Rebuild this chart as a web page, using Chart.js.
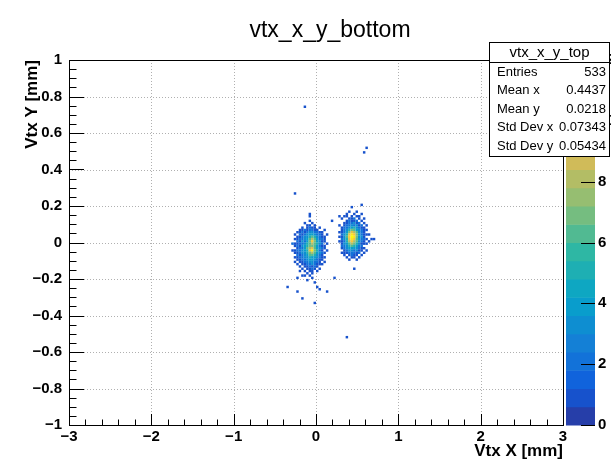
<!DOCTYPE html>
<html><head><meta charset="utf-8">
<script src="https://cdn.jsdelivr.net/npm/chart.js@4/dist/chart.umd.min.js"></script>
<style>html,body{margin:0;padding:0;background:#fff;}canvas{display:block;}</style>
</head><body>
<canvas id="c" width="611" height="465"></canvas>
<script>
// ---------- texts ----------
const chartTitle = 'vtx_x_y_bottom';
const xAxisTitle = 'Vtx X [mm]';
const yAxisTitle = 'Vtx Y [mm]';
const statsTitle = 'vtx_x_y_top';
const statsLabels = ['Entries', 'Mean x', 'Mean y', 'Std Dev x', 'Std Dev y'];
const statsValues = ['533', '0.4437', '0.0218', '0.07343', '0.05434'];

// ---------- ticks ----------
const xTickValues = [-3, -2, -1, 0, 1, 2, 3];
const yTickValues = [-1, -0.8, -0.6, -0.4, -0.2, 0, 0.2, 0.4, 0.6, 0.8, 1];
const zTickValues = [0, 2, 4, 6, 8, 10, 12];

// ---------- histogram binning ----------
const xRange = [-3, 3];
const yRange = [-1, 1];
const xBinWidth = 0.03;
const yBinWidth = 0.0125;

// right cluster: first x bin index, top y bin index, counts (rows top -> bottom)
const rightFirstXBin = 109;
const rightTopYBin = 93;
const rightCounts = [
  [0,0,0,0,1,0,0,1,0,0,0,0,0,0],
  [0,0,0,1,0,0,1,0,0,1,0,0,0,0],
  [0,0,1,0,0,1,0,1,1,0,0,0,0,0],
  [0,1,0,0,1,1,2,0,1,0,1,0,0,0],
  [0,0,0,1,2,1,1,2,0,1,0,0,0,0],
  [0,0,1,1,2,2,3,1,2,0,1,0,0,0],
  [1,0,1,2,2,3,2,3,1,2,0,1,0,0],
  [0,1,2,2,3,4,5,3,2,1,1,0,0,0],
  [0,1,2,3,5,7,6,4,3,2,1,1,0,0],
  [1,1,2,4,7,9,8,6,3,2,1,0,0,0],
  [0,2,3,5,9,11,10,7,4,2,1,1,1,0],
  [1,1,3,6,10,12,11,7,3,3,1,0,0,0],
  [0,2,3,5,9,11,10,6,4,2,2,1,0,1],
  [1,1,2,5,8,10,8,6,3,2,1,0,1,0],
  [0,1,3,4,6,8,7,5,3,1,1,1,0,0],
  [0,2,2,3,5,6,5,4,2,2,0,0,0,0],
  [0,1,2,3,4,4,4,3,2,1,1,0,0,0],
  [0,0,1,2,3,3,2,3,1,1,0,1,0,0],
  [0,1,1,1,2,2,2,1,2,0,1,0,0,0],
  [0,0,1,0,1,2,1,1,0,1,0,0,0,0],
  [0,0,0,1,0,1,1,0,1,0,0,0,0,0],
  [0,0,0,0,1,0,0,1,0,0,0,0,0,0]
];

// left cluster
const leftFirstXBin = 90;
const leftTopYBin = 91;
const leftCounts = [
  [0,0,0,0,0,0,0,1,0,0,0,0,0,0,0,0],
  [0,0,0,0,0,0,0,0,0,0,0,0,0,0,0,0],
  [0,0,0,0,0,0,0,1,0,0,0,0,0,0,0,0],
  [0,0,0,0,0,1,0,0,1,0,0,0,0,0,0,0],
  [0,0,0,0,0,0,1,1,0,1,0,0,0,0,0,0],
  [0,0,0,0,1,0,1,2,1,1,0,1,0,0,0,0],
  [0,0,0,1,1,2,1,2,2,1,1,0,0,1,0,0],
  [0,0,1,1,2,1,2,3,3,2,2,1,1,0,0,0],
  [0,1,0,2,1,2,3,4,4,3,2,2,1,0,1,0],
  [0,0,1,1,2,3,3,5,6,5,3,2,1,1,0,0],
  [0,1,1,2,2,3,4,6,8,6,4,2,2,1,0,0],
  [0,0,2,1,3,2,4,7,10,7,4,3,1,1,0,0],
  [1,1,1,2,2,3,5,6,8,6,5,3,2,0,1,0],
  [0,1,2,1,3,4,5,7,7,6,4,2,1,1,0,0],
  [0,0,1,2,2,4,6,8,9,6,4,3,2,1,0,0],
  [1,1,2,2,3,4,5,9,11,7,5,2,1,0,1,0],
  [0,1,1,2,3,3,5,7,8,6,4,3,2,1,0,0],
  [0,0,2,1,2,3,4,6,6,5,3,2,1,0,0,0],
  [0,1,1,2,2,3,3,5,4,4,3,2,1,1,0,0],
  [0,0,1,1,2,2,3,4,4,3,2,1,1,0,0,0],
  [0,1,0,1,1,2,2,3,3,2,2,1,0,1,0,0],
  [0,0,1,0,1,1,2,2,3,2,1,1,1,0,0,0],
  [0,0,0,1,0,1,1,2,1,2,1,0,0,0,0,0],
  [0,0,0,0,1,0,1,1,2,1,0,1,0,0,0,0],
  [0,0,0,1,0,1,0,1,1,0,1,0,0,0,0,0],
  [0,0,0,0,0,0,1,0,1,0,0,0,0,0,0,0],
  [0,0,0,0,1,0,0,1,0,0,0,0,0,0,0,0],
  [0,0,0,0,0,0,0,0,1,0,0,0,0,0,0,0],
  [0,0,0,0,0,0,1,0,0,0,0,0,0,0,0,0],
  [0,0,0,0,0,0,0,0,0,1,0,0,0,0,0,0]
];

// isolated single entries
const isolatedX = [-0.13, 0.62, 0.59, -0.255, 0.44, 0.56, -0.07, 0.19, 0.29, 0.38, -0.34, -0.23, -0.16, -0.01, 0.01, 0.05, 0.13, 0.23, 0.38, -0.23, -0.13, -0.30, 0.70, 0.46];
const isolatedY = [0.74, 0.515, 0.495, 0.263, 0.19, 0.205, 0.16, 0.115, 0.14, 0.14, -0.24, -0.27, -0.30, -0.33, -0.25, -0.26, -0.27, -0.20, -0.515, -0.19, -0.18, -0.005, 0.02, -0.14];

// ---------- palette (ROOT kBird) ----------
const birdStops = [0, 0.125, 0.25, 0.375, 0.5, 0.625, 0.75, 0.875, 1];
const birdR = [0.2082, 0.0592, 0.0780, 0.0232, 0.1802, 0.5301, 0.8186, 0.9956, 0.9764];
const birdG = [0.1664, 0.3599, 0.5041, 0.6419, 0.7178, 0.7492, 0.7328, 0.7862, 0.9832];
const birdB = [0.5293, 0.8684, 0.8385, 0.7914, 0.6425, 0.4662, 0.3499, 0.1968, 0.0539];
const nContours = 20;

function birdColor(f) {
  f = Math.max(0, Math.min(1, f));
  let i = 0;
  while (i < birdStops.length - 2 && f > birdStops[i + 1]) i++;
  const t = (f - birdStops[i]) / (birdStops[i + 1] - birdStops[i]);
  const c = a => Math.round(255 * (a[i] + t * (a[i + 1] - a[i])));
  return `rgb(${c(birdR)},${c(birdG)},${c(birdB)})`;
}

// ---------- build cells ----------
const binMap = new Map();
function addBin(ix, iy, v) { const k = ix + ',' + iy; binMap.set(k, (binMap.get(k) || 0) + v); }
function addGrid(counts, firstX, topY) {
  counts.forEach((row, j) => row.forEach((v, i) => { if (v > 0) addBin(firstX + i, topY - j, v); }));
}
addGrid(rightCounts, rightFirstXBin, rightTopYBin);
addGrid(leftCounts, leftFirstXBin, leftTopYBin);
isolatedX.forEach((x, n) => addBin(Math.floor((x - xRange[0]) / xBinWidth), Math.floor((isolatedY[n] - yRange[0]) / yBinWidth), 1));
const cells = [...binMap].map(([k, v]) => {
  const [ix, iy] = k.split(',').map(Number);
  return { x: xRange[0] + (ix + 0.5) * xBinWidth, y: yRange[0] + (iy + 0.5) * yBinWidth, v };
});
const zMax = Math.max(...cells.map(c => c.v));

function cellColor(v) {
  let c = Math.floor(0.01 + v * nContours / zMax);
  if (c > nContours - 1) c = nContours - 1;
  return birdColor((c + 0.99) / nContours);
}

const FONT = '"Liberation Sans", Arial, Helvetica, sans-serif';
const fmt = v => { const r = Math.round(v * 10) / 10; return (r < 0 ? '\u2212' : '') + String(Math.abs(r)); };

const rootPlugin = {
  id: 'rootDecor',
  beforeDatasetsDraw(chart) {
    const { ctx, chartArea: a, scales } = chart;
    ctx.save();
    ctx.strokeStyle = '#b0b0b0'; ctx.lineWidth = 1; ctx.setLineDash([1, 2]);
    ctx.beginPath();
    xTickValues.forEach(v => {
      const px = Math.round(scales.x.getPixelForValue(v)) + 0.5;
      if (px > a.left + 1 && px < a.right - 1) { ctx.moveTo(px, a.top); ctx.lineTo(px, a.bottom); }
    });
    yTickValues.forEach(v => {
      const py = Math.round(scales.y.getPixelForValue(v)) + 0.5;
      if (py > a.top + 1 && py < a.bottom - 1) { ctx.moveTo(a.left, py); ctx.lineTo(a.right, py); }
    });
    ctx.stroke();
    ctx.restore();
  },
  afterDatasetsDraw(chart) {
    const { ctx, chartArea: a, scales } = chart;
    const sx = scales.x, sy = scales.y, sz = scales.z;
    ctx.save();
    // frame
    ctx.strokeStyle = '#000'; ctx.lineWidth = 1;
    ctx.strokeRect(Math.round(a.left) + 0.5, Math.round(a.top) + 0.5, Math.round(a.right - a.left), Math.round(a.bottom - a.top));
    // inner ticks
    ctx.beginPath();
    for (let k = 0; k <= 30; k++) {
      const v = xRange[0] + k * 0.2;
      const px = Math.round(sx.getPixelForValue(v)) + 0.5;
      const len = (k % 5 === 0) ? 11 : 5.5;
      ctx.moveTo(px, a.bottom); ctx.lineTo(px, a.bottom - len);
    }
    for (let k = 0; k <= 40; k++) {
      const v = yRange[0] + k * 0.05;
      const py = Math.round(sy.getPixelForValue(v)) + 0.5;
      const len = (k % 4 === 0) ? 15 : 7.5;
      ctx.moveTo(a.left, py); ctx.lineTo(a.left + len, py);
    }
    ctx.stroke();
    // palette
    const pL = a.right + 3, pW = 29;
    for (let k = 0; k < nContours; k++) {
      const y0 = sz.getPixelForValue(k * zMax / nContours);
      const y1 = sz.getPixelForValue((k + 1) * zMax / nContours);
      ctx.fillStyle = birdColor((k + 0.99) / nContours);
      ctx.fillRect(pL, y1, pW, y0 - y1 + 0.5);
    }
    ctx.beginPath();
    zTickValues.forEach(v => {
      const py = Math.round(sz.getPixelForValue(v)) + 0.5;
      ctx.moveTo(pL + pW, py); ctx.lineTo(pL + pW - 14, py);
    });
    ctx.strokeStyle = '#000'; ctx.stroke();
    // title
    ctx.fillStyle = '#000';
    ctx.font = '23px ' + FONT;
    ctx.textAlign = 'center'; ctx.textBaseline = 'middle';
    ctx.fillText(chartTitle, 330, 31);
    // stats box
    const bx = 489.5, by = 42.5, bw = 120, bh = 114;
    ctx.fillStyle = '#fff'; ctx.fillRect(bx, by, bw, bh);
    ctx.strokeStyle = '#000'; ctx.strokeRect(bx, by, bw, bh);
    ctx.beginPath(); ctx.moveTo(bx, 62.5); ctx.lineTo(bx + bw, 62.5); ctx.stroke();
    ctx.fillStyle = '#000';
    ctx.font = '15px ' + FONT; ctx.textAlign = 'center';
    ctx.fillText(statsTitle, bx + bw / 2, 53);
    ctx.font = '13px ' + FONT;
    statsLabels.forEach((lab, i) => {
      const yy = 72 + i * 18.6;
      ctx.textAlign = 'left'; ctx.fillText(lab, 497, yy);
      ctx.textAlign = 'right'; ctx.fillText(statsValues[i], 606, yy);
    });
    ctx.restore();
  }
};

const tickFont = { family: FONT, size: 15, weight: 'bold' };
const titleFont = { family: FONT, size: 17, weight: 'bold', lineHeight: 1.2 };
const binRadius = ctx => {
  const s = ctx.chart.scales.x;
  return Math.abs(s.getPixelForValue(xBinWidth) - s.getPixelForValue(0)) / Math.SQRT2;
};

new Chart(document.getElementById('c'), {
  type: 'scatter',
  data: {
    datasets: [{
      data: cells,
      pointStyle: 'rect',
      backgroundColor: ctx => ctx.raw ? cellColor(ctx.raw.v) : '#000',
      borderWidth: 0,
      pointRadius: binRadius,
      pointHoverRadius: binRadius
    }]
  },
  options: {
    responsive: false,
    animation: false,
    events: [],
    layout: { padding: { top: 60, left: 0, right: 0, bottom: 0 } },
    plugins: { legend: { display: false }, title: { display: false }, tooltip: { enabled: false } },
    scales: {
      x: {
        type: 'linear', position: 'bottom', min: xRange[0], max: xRange[1],
        afterBuildTicks: s => { s.ticks = xTickValues.map(v => ({ value: v })); },
        afterFit: s => { s.height = 40; s.paddingTop = 0; s.paddingBottom = 0; },
        ticks: { callback: v => fmt(v), font: tickFont, color: '#000', padding: 3, maxRotation: 0, autoSkip: false },
        grid: { display: false, drawTicks: false },
        border: { display: false },
        title: { display: true, text: xAxisTitle, align: 'end', font: titleFont, color: '#000', padding: { top: 0, bottom: 3 } }
      },
      y: {
        type: 'linear', position: 'left', min: yRange[0], max: yRange[1],
        afterBuildTicks: s => { s.ticks = yTickValues.map(v => ({ value: v })); },
        afterFit: s => { s.width = 69; s.paddingTop = 0; s.paddingBottom = 0; },
        ticks: { callback: v => fmt(v), font: tickFont, color: '#000', padding: 7, autoSkip: false },
        grid: { display: false, drawTicks: false },
        border: { display: false },
        title: { display: true, text: yAxisTitle, align: 'end', font: titleFont, color: '#000', padding: { top: 22, bottom: 0 } }
      },
      z: {
        type: 'linear', position: 'right', min: 0, max: zMax,
        afterBuildTicks: s => { s.ticks = zTickValues.map(v => ({ value: v })); },
        afterFit: s => { s.width = 48; s.paddingTop = 0; s.paddingBottom = 0; },
        ticks: { callback: v => String(v), font: tickFont, color: '#000', padding: 35, autoSkip: false },
        grid: { display: false, drawOnChartArea: false, drawTicks: false },
        border: { display: false }
      }
    }
  },
  plugins: [rootPlugin]
});
</script>
</body></html>
